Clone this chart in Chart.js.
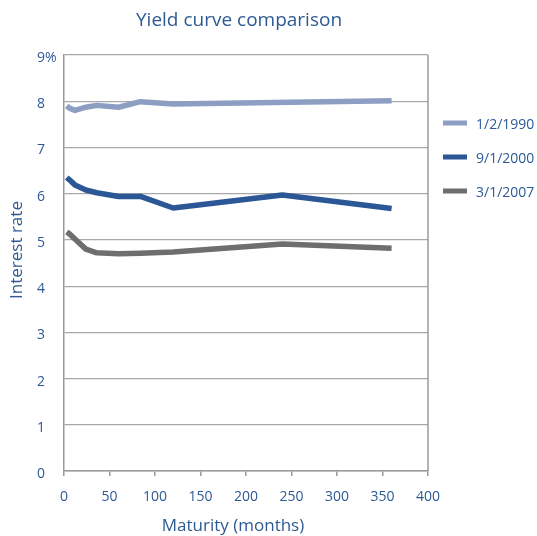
<!DOCTYPE html>
<html>
<head>
<meta charset="utf-8">
<script src="https://cdn.jsdelivr.net/npm/chart.js@4.4.0/dist/chart.umd.min.js"></script>
<style>
  body { margin: 0; background: #fff; }
  #wrap { width: 537px; height: 536px; }
</style>
</head>
<body>
<div id="wrap"><canvas id="yieldChart" width="537" height="536"></canvas></div>
<script>
const maturities1990 = [3, 6, 12, 24, 36, 60, 84, 120, 360];
const rates1990 = [7.90, 7.85, 7.80, 7.87, 7.91, 7.87, 7.99, 7.94, 8.01];

const maturities2000 = [3, 6, 12, 24, 36, 60, 84, 120, 240, 360];
const rates2000 = [6.35, 6.30, 6.19, 6.08, 6.02, 5.94, 5.94, 5.69, 5.97, 5.68];

const maturities2007 = [3, 6, 12, 24, 36, 60, 84, 120, 240, 360];
const rates2007 = [5.17, 5.13, 5.02, 4.80, 4.72, 4.70, 4.71, 4.74, 4.91, 4.82];

const seriesLabels = ['1/2/1990', '9/1/2000', '3/1/2007'];
const xTicks = [0, 50, 100, 150, 200, 250, 300, 350, 400];
const yTicks = [0, 1, 2, 3, 4, 5, 6, 7, 8, 9];

const textBlue = '#2d5a95';
const gridGray = '#a8a8a8';
const frameGray = '#9a9a9a';
const fontFamily = '"Open Sans", "Noto Sans", sans-serif';

function toPoints(xs, ys) {
    return xs.map((x, i) => ({ x: x, y: ys[i] }));
}

// titles, right frame line and legend drawn by hand
const decorations = {
    id: 'decorations',
    afterDraw(chart) {
        const ctx = chart.ctx;
        const area = chart.chartArea;
        ctx.save();

        ctx.strokeStyle = frameGray;
        ctx.lineWidth = 1.5;
        ctx.beginPath();
        ctx.moveTo(area.right, area.top);
        ctx.lineTo(area.right, area.bottom);
        ctx.stroke();

        ctx.fillStyle = textBlue;
        ctx.textBaseline = 'middle';
        ctx.textAlign = 'center';
        ctx.font = '19px ' + fontFamily;
        ctx.fillText('Yield curve comparison', 239, 21);

        ctx.font = '17px ' + fontFamily;
        ctx.fillText('Maturity (months)', 233, 526);

        ctx.save();
        ctx.translate(17, 250);
        ctx.rotate(-Math.PI / 2);
        ctx.fillText('Interest rate', 0, 0);
        ctx.restore();

        ctx.textAlign = 'left';
        ctx.font = '14px ' + fontFamily;
        chart.data.datasets.forEach((ds, i) => {
            const y = 123 + i * 34;
            ctx.fillStyle = ds.borderColor;
            ctx.fillRect(443, y - 2.5, 24, 5);
            ctx.fillStyle = textBlue;
            ctx.fillText(ds.label, 476, y + 2);
        });
        ctx.restore();
    }
};

new Chart(document.getElementById('yieldChart'), {
    type: 'line',
    data: {
        datasets: [{
            label: seriesLabels[0],
            data: toPoints(maturities1990, rates1990),
            borderColor: '#8d9ec3'
        }, {
            label: seriesLabels[1],
            data: toPoints(maturities2000, rates2000),
            borderColor: '#2b5797'
        }, {
            label: seriesLabels[2],
            data: toPoints(maturities2007, rates2007),
            borderColor: '#6e6e6e'
        }].map(ds => Object.assign(ds, {
            borderWidth: 5.5,
            pointRadius: 0,
            tension: 0,
            fill: false,
            borderJoinStyle: 'round'
        }))
    },
    options: {
        responsive: false,
        animation: false,
        layout: { padding: { top: 55, left: 37, right: 109, bottom: 0 } },
        plugins: {
            legend: { display: false },
            title: { display: false },
            tooltip: { enabled: false }
        },
        scales: {
            x: {
                type: 'linear',
                min: 0,
                max: 400,
                afterBuildTicks: s => { s.ticks = xTicks.map(v => ({ value: v })); },
                afterFit: s => { s.height = 65; },
                grid: { drawOnChartArea: false, color: frameGray, tickLength: 5, lineWidth: 1.5 },
                border: { color: frameGray, width: 1.5 },
                ticks: { color: textBlue, font: { size: 14, family: fontFamily }, padding: 13, maxRotation: 0 }
            },
            y: {
                min: 0,
                max: 9,
                afterBuildTicks: s => { s.ticks = yTicks.map(v => ({ value: v })); },
                afterFit: s => { s.width = 27; },
                grid: { color: gridGray, drawTicks: false, lineWidth: 1.2 },
                border: { color: frameGray, width: 1.5 },
                ticks: {
                    color: textBlue,
                    font: { size: 14, family: fontFamily },
                    crossAlign: 'far',
                    labelOffset: 3,
                    callback: v => v === 9 ? '9%' : String(v)
                }
            }
        }
    },
    plugins: [decorations]
});
</script>
</body>
</html>
